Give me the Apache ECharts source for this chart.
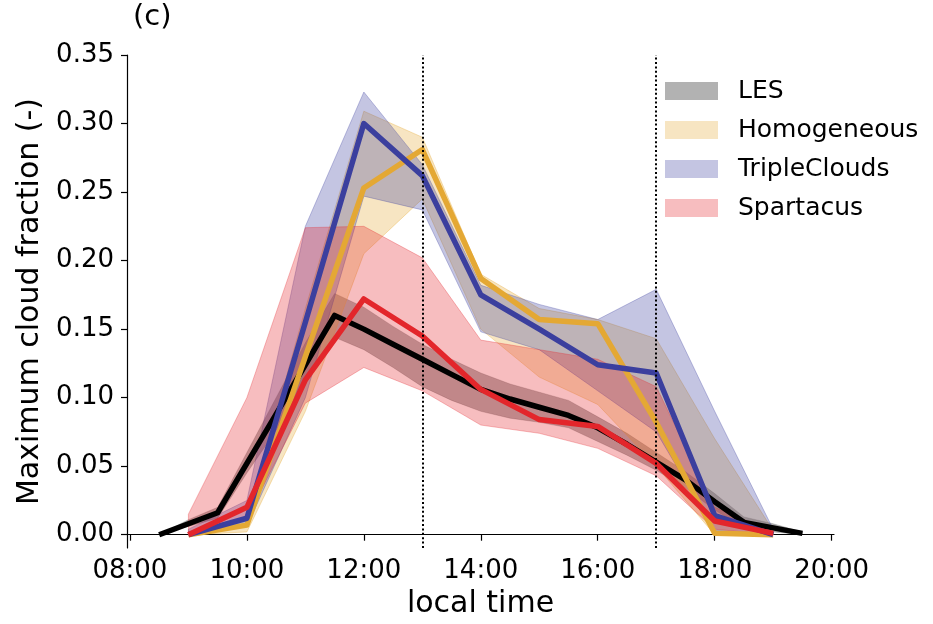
<!DOCTYPE html>
<html>
<head>
<meta charset="utf-8">
<script src="https://cdn.jsdelivr.net/npm/echarts@6/dist/echarts.min.js"></script>
<style>
  html, body { margin: 0; padding: 0; background: #fff; }
  #chart { width: 933px; height: 624px; }
</style>
</head>
<body>
<div id="chart"></div>
<script>
// local time in hours
var lesTime = [8.5, 9, 9.5, 10, 10.5, 11, 11.5, 12, 12.5, 13, 13.5, 14, 14.5, 15, 15.5, 16, 16.5, 17, 17.5, 18, 18.5, 19, 19.5];
var lesMean = [0, 0.008, 0.016, 0.052, 0.088, 0.124, 0.160, 0.150, 0.139, 0.128, 0.117, 0.106, 0.099, 0.093, 0.087, 0.078, 0.066, 0.053, 0.040, 0.024, 0.009, 0.005, 0.001];
var lesLow  = [0, 0.006, 0.012, 0.045, 0.076, 0.110, 0.144, 0.135, 0.122, 0.108, 0.098, 0.090, 0.085, 0.082, 0.078, 0.068, 0.058, 0.047, 0.034, 0.018, 0.005, 0.002, 0];
var lesHigh = [0, 0.011, 0.020, 0.060, 0.100, 0.140, 0.176, 0.166, 0.152, 0.139, 0.128, 0.118, 0.110, 0.104, 0.098, 0.086, 0.074, 0.060, 0.046, 0.030, 0.013, 0.008, 0.002];

var modelTime = [9, 10, 11, 12, 13, 14, 15, 16, 17, 18, 19];
var homMean = [0, 0.007, 0.130, 0.253, 0.281, 0.187, 0.157, 0.154, 0.082, 0.001, 0];
var homLow  = [0, 0.002, 0.090, 0.205, 0.245, 0.150, 0.115, 0.095, 0.050, 0, 0];
var homHigh = [0.002, 0.012, 0.165, 0.309, 0.290, 0.190, 0.165, 0.157, 0.143, 0.070, 0.003];

var tcMean = [0, 0.012, 0.155, 0.300, 0.262, 0.175, 0.150, 0.124, 0.118, 0.014, 0];
var tcLow  = [0, 0.006, 0.100, 0.247, 0.237, 0.148, 0.135, 0.105, 0.075, 0.003, 0];
var tcHigh = [0.004, 0.025, 0.225, 0.323, 0.270, 0.182, 0.168, 0.157, 0.179, 0.090, 0.004];

var spMean = [0, 0.020, 0.113, 0.172, 0.145, 0.106, 0.084, 0.079, 0.052, 0.010, 0.001];
var spLow  = [0, 0.012, 0.096, 0.122, 0.105, 0.080, 0.074, 0.063, 0.043, 0.004, 0];
var spHigh = [0.015, 0.100, 0.224, 0.225, 0.202, 0.142, 0.135, 0.128, 0.108, 0.020, 0.002];

var xTicks = [8, 10, 12, 14, 16, 18, 20];
var yTicks = [0, 0.05, 0.10, 0.15, 0.20, 0.25, 0.30, 0.35];
var markerTimes = [13, 17];

var FONT = 'DejaVu Sans';
var chart = echarts.init(document.getElementById('chart'));

function pairs(times, vals) {
    return times.map(function (t, i) { return [t, vals[i]]; });
}

// shaded min/max band, drawn as one polygon through the axis scales
function bandSeries(name, times, low, high, fill, edge) {
    return {
        name: name,
        type: 'custom',
        coordinateSystem: 'cartesian2d',
        itemStyle: { color: fill },
        data: times.map(function (t, i) { return [t, low[i], high[i]]; }),
        encode: { x: 0, y: [1, 2] },
        silent: true,
        renderItem: function (params, api) {
            if (params.dataIndex !== 0) return null;
            var pts = [];
            for (var i = 0; i < times.length; i++) pts.push(api.coord([times[i], high[i]]));
            for (var j = times.length - 1; j >= 0; j--) pts.push(api.coord([times[j], low[j]]));
            return {
                type: 'polygon',
                shape: { points: pts },
                style: { fill: fill, stroke: edge, lineWidth: 1 }
            };
        }
    };
}

function lineSeries(name, times, vals, color) {
    return {
        name: name,
        type: 'line',
        data: pairs(times, vals),
        symbol: 'none',
        lineStyle: { color: color, width: 5.5, join: 'round', cap: 'butt' },
        itemStyle: { color: color },
        silent: true
    };
}

var lesLine = lineSeries('LES mean', lesTime, lesMean, '#000000');
lesLine.markLine = {
    silent: true,
    symbol: ['none', 'none'],
    label: { show: false },
    lineStyle: { color: '#000', width: 2, type: [2, 2.4] },
    data: markerTimes.map(function (t) { return { xAxis: t }; })
};

var option = {
    animation: false,
    backgroundColor: '#fff',
    title: {
        text: '(c)',
        left: 128,
        top: -2,
        textStyle: { fontFamily: FONT, fontSize: 29, fontWeight: 'normal', color: '#000' }
    },
    legend: {
        orient: 'vertical',
        left: 660,
        top: 73,
        itemWidth: 53,
        itemHeight: 18,
        itemGap: 13,
        icon: 'rect',
        data: ['LES', 'Homogeneous', 'TripleClouds', 'Spartacus'],
        textStyle: { fontFamily: FONT, fontSize: 25, color: '#000', padding: [0, 0, 0, 15], lineHeight: 26 }
    },
    grid: { left: 127, right: 99, top: 55, bottom: 71 },
    xAxis: {
        type: 'value',
        min: 7.95,
        max: 20.04,
        name: 'local time',
        nameLocation: 'middle',
        nameGap: 35,
        nameMoveOverlap: false,
        nameTextStyle: { fontFamily: FONT, fontSize: 30, color: '#000', padding: [6, 0, 0, 0] },
        axisLine: { show: true, lineStyle: { color: '#000', width: 1.2 } },
        axisTick: { show: true, length: 6, customValues: xTicks, lineStyle: { color: '#000', width: 1.2 } },
        axisLabel: {
            customValues: xTicks,
            margin: 10,
            fontFamily: FONT,
            fontSize: 26,
            color: '#000',
            formatter: function (v) {
                var h = Math.round(v);
                return (h < 10 ? '0' : '') + h + ':00';
            }
        },
        splitLine: { show: false }
    },
    yAxis: {
        type: 'value',
        min: -0.0097,
        max: 0.35,
        name: 'Maximum cloud fraction (-)',
        nameLocation: 'middle',
        nameGap: 80,
        nameRotate: 90,
        nameTextStyle: { fontFamily: FONT, fontSize: 30, color: '#000' },
        axisLine: { show: true, lineStyle: { color: '#000', width: 1.2 } },
        axisTick: { show: true, length: 6, customValues: yTicks, lineStyle: { color: '#000', width: 1.2 } },
        axisLabel: {
            customValues: yTicks,
            margin: 13,
            fontFamily: FONT,
            fontSize: 26,
            color: '#000',
            formatter: function (v) { return v.toFixed(2); }
        },
        splitLine: { show: false }
    },
    series: [
        bandSeries('LES', lesTime, lesLow, lesHigh, 'rgba(0,0,0,0.3)', 'rgba(0,0,0,0.15)'),
        bandSeries('Homogeneous', modelTime, homLow, homHigh, 'rgba(228,168,52,0.3)', 'rgba(228,168,52,0.35)'),
        bandSeries('TripleClouds', modelTime, tcLow, tcHigh, 'rgba(59,63,158,0.3)', 'rgba(59,63,158,0.3)'),
        bandSeries('Spartacus', modelTime, spLow, spHigh, 'rgba(227,38,43,0.3)', 'rgba(227,38,43,0.3)'),
        lesLine,
        lineSeries('Homogeneous mean', modelTime, homMean, '#e4a834'),
        lineSeries('TripleClouds mean', modelTime, tcMean, '#3b3f9e'),
        lineSeries('Spartacus mean', modelTime, spMean, '#e3262b')
    ]
};

chart.setOption(option);
</script>
</body>
</html>
